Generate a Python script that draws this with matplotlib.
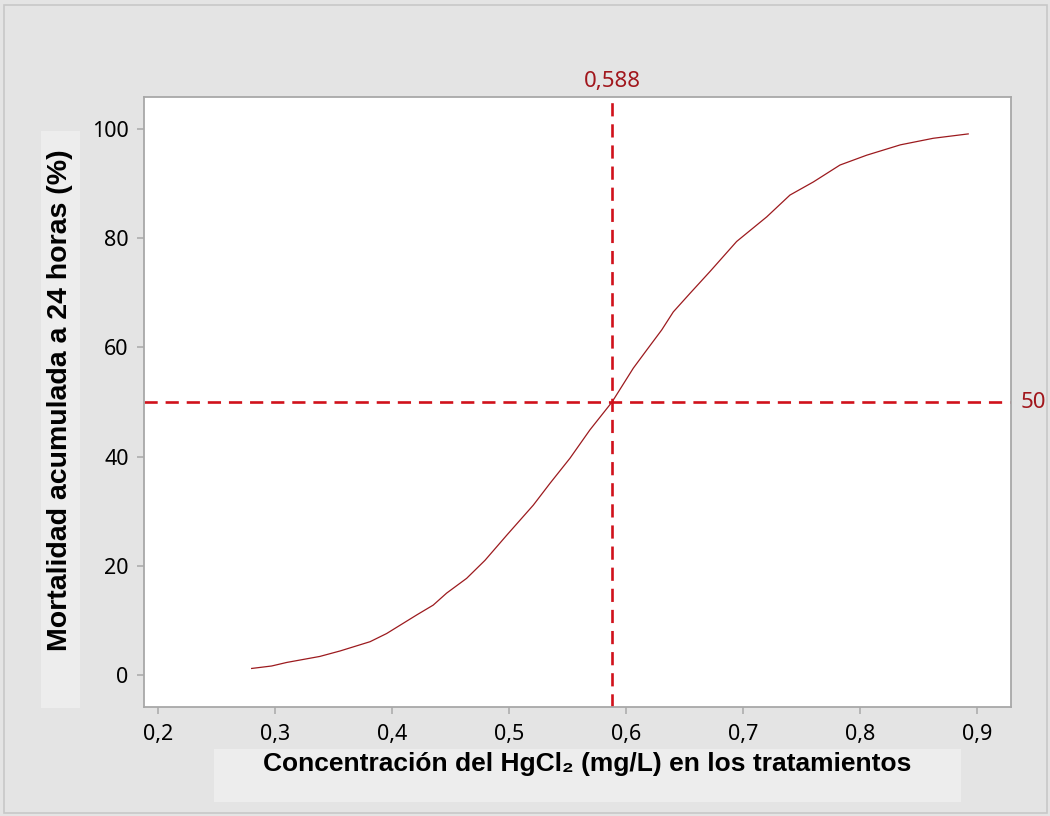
import numpy as np
import matplotlib
matplotlib.use('Agg')
import matplotlib.pyplot as plt
from matplotlib.patches import Rectangle

# concentration (mg/L) and cumulative mortality at 24 h (%)
conc = [0.2797, 0.2968, 0.3097, 0.338, 0.3553, 0.381, 0.3952, 0.4209, 0.435,
        0.4465, 0.4636, 0.4793, 0.4979, 0.5206, 0.5349, 0.552, 0.5691, 0.588,
        0.6062, 0.6176, 0.6305, 0.6404, 0.6547, 0.6718, 0.6946, 0.7203,
        0.7402, 0.7602, 0.783, 0.8058, 0.8347, 0.8628, 0.8927]
mort = [1.2, 1.65, 2.3, 3.4, 4.4, 6.1, 7.6, 11.0, 12.8, 15.0, 17.7, 21.0,
        25.6, 31.1, 35.1, 39.7, 44.9, 50.0, 56.2, 59.5, 63.2, 66.5, 69.9,
        73.9, 79.4, 83.9, 87.9, 90.3, 93.4, 95.2, 97.1, 98.3, 99.1]

lc50_x = 0.588
lc50_y = 50
xticks = [0.2, 0.3, 0.4, 0.5, 0.6, 0.7, 0.8, 0.9]
yticks = [0, 20, 40, 60, 80, 100]

bg = '#e4e4e4'
spine = '#a8a8a8'
dash_red = '#d0111b'
lab_red = '#a1161c'

fig = plt.figure(figsize=(10.5, 8.16), dpi=100, facecolor=bg)
fig.patches.append(Rectangle((0.004, 0.004), 0.993, 0.99, transform=fig.transFigure,
                             fill=False, edgecolor='#c8c8c8', linewidth=1.2))

# light boxes behind the axis titles
fig.patches.append(Rectangle((41/1050, 1-708/816), 39/1050, 577/816, transform=fig.transFigure,
                             facecolor='#ededed', edgecolor='none'))
fig.patches.append(Rectangle((214/1050, 1-802/816), 747/1050, 53/816, transform=fig.transFigure,
                             facecolor='#ededed', edgecolor='none'))

ax = fig.add_axes([144/1050, 1-707/816, 867/1050, 610/816])
ax.set_facecolor('white')

ax.plot(conc, mort, color='#9c1a1e', linewidth=0.9)
ax.axvline(lc50_x, color=dash_red, linewidth=1.9, dashes=(5, 3))
ax.axhline(lc50_y, color=dash_red, linewidth=1.9, dashes=(5, 3))

ax.set_xlim(0.1876, 0.9293)
ax.set_ylim(-5.86, 105.86)
ax.set_xticks(xticks)
ax.set_yticks(yticks)
ax.set_xticklabels([('%.1f' % v).replace('.', ',') for v in xticks])
ax.set_yticklabels([str(v) for v in yticks])

for s in ax.spines.values():
    s.set_color(spine)
    s.set_linewidth(1.3)
ax.tick_params(colors=spine, length=5, width=1.1, labelcolor='black',
               labelsize=15.5, direction='out')
ax.tick_params(axis='x', pad=7)
ax.tick_params(axis='y', pad=6)
for lab in ax.get_xticklabels() + ax.get_yticklabels():
    lab.set_family('Noto Sans')
    lab.set_fontweight('medium')

ax.text(lc50_x, 1.008, ('%.3f' % lc50_x).replace('.', ','), transform=ax.get_xaxis_transform(),
        ha='center', va='bottom', color=lab_red, fontsize=16, family='Noto Sans',
        fontweight='medium')
ax.text(1.011, lc50_y, str(lc50_y), transform=ax.get_yaxis_transform(),
        ha='left', va='center', color=lab_red, fontsize=16, family='Noto Sans',
        fontweight='medium')

fig.text(587/1050, 1-764/816, 'Concentración del HgCl₂ (mg/L) en los tratamientos',
         ha='center', va='center', fontsize=19, fontweight='bold',
         family=['Liberation Sans Narrow', 'Liberation Sans', 'DejaVu Sans'])
fig.text(60/1050, 1-400/816, 'Mortalidad acumulada a 24 horas (%)', rotation=90,
         ha='center', va='center', fontsize=20.5, fontweight='bold',
         family=['Liberation Sans', 'DejaVu Sans'])

fig.savefig('out.png', dpi=100, facecolor=bg)
